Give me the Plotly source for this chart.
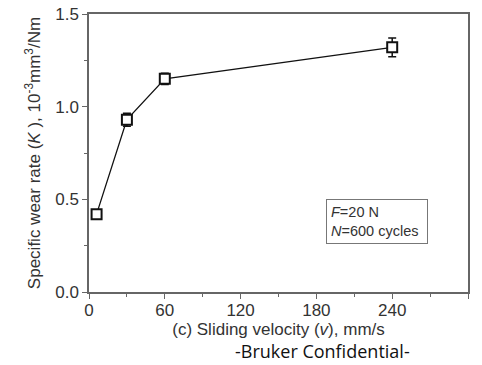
import plotly.graph_objects as go

velocity = [6, 30, 60, 240]
wear_rate = [0.42, 0.93, 1.15, 1.32]
wear_err = [0.01, 0.035, 0.03, 0.05]

x_ticks = [0, 60, 120, 180, 240, 300]
y_ticks = [0.0, 0.5, 1.0, 1.5]
y_tick_text = ["0.0", "0.5", "1.0", "1.5"]

FAM = "Liberation Sans, Arial, sans-serif"
axis_font = dict(family=FAM, size=17, color="#333333")

fig = go.Figure()
fig.add_trace(go.Scatter(
    x=velocity, y=wear_rate,
    mode="lines+markers",
    line=dict(color="#111111", width=1.3),
    marker=dict(symbol="square", size=10, color="white",
                line=dict(color="#111111", width=2)),
    error_y=dict(type="data", array=wear_err, visible=True,
                 color="#111111", thickness=1.5, width=4),
    showlegend=False,
))

fig.update_layout(
    template="none",
    width=482, height=365,
    margin=dict(l=89, r=14, t=14, b=73),
    paper_bgcolor="white", plot_bgcolor="white",
    font=axis_font,
    xaxis=dict(
        automargin=False,
        range=[0, 300], tickvals=x_ticks, ticktext=[str(v) for v in x_ticks],
        showgrid=False, zeroline=False,
        showline=True, linecolor="#666666", linewidth=1.5, mirror=True,
        ticks="outside", ticklen=5, tickcolor="#666666", tickwidth=1,
        ticklabelstandoff=-3,
        minor=dict(tickvals=[30, 90, 150, 210, 270], ticks="outside", ticklen=3,
                   tickcolor="#666666"),
        tickfont=axis_font,
        title=dict(text="(c) Sliding velocity (<i>v</i>), mm/s",
                   font=dict(family=FAM, size=17, color="#333333"),
                   standoff=1),
    ),
    yaxis=dict(
        automargin=False,
        range=[0, 1.5], tickvals=y_ticks, ticktext=y_tick_text,
        showgrid=False, zeroline=False,
        showline=True, linecolor="#666666", linewidth=1.5, mirror=True,
        ticks="outside", ticklen=5, tickcolor="#666666", tickwidth=1,
        minor=dict(tickvals=[0.25, 0.75, 1.25], ticks="outside", ticklen=3,
                   tickcolor="#666666"),
        tickfont=axis_font,
        title=dict(text="Specific wear rate (<i>K</i> ), 10<sup>-3</sup>mm<sup>3</sup>/Nm",
                   font=dict(family=FAM, size=17, color="#333333"),
                   standoff=10),
    ),
    annotations=[
        dict(xref="paper", yref="paper", x=0.625, y=0.335, xanchor="left", yanchor="top",
             text="<i>F</i>=20 N   <br><i>N</i>=600 cycles ", align="left", showarrow=False,
             font=dict(family=FAM, size=14.5, color="#333333"),
             bordercolor="#777777", borderwidth=1, borderpad=4, bgcolor="white"),
        dict(xref="paper", yref="paper", x=0.615, y=-0.2626, xanchor="center", yanchor="bottom",
             text="-Bruker Confidential-", showarrow=False,
             font=dict(family="Open Sans, sans-serif", size=18, color="#111111")),
    ],
)

fig.write_html("out.html")
